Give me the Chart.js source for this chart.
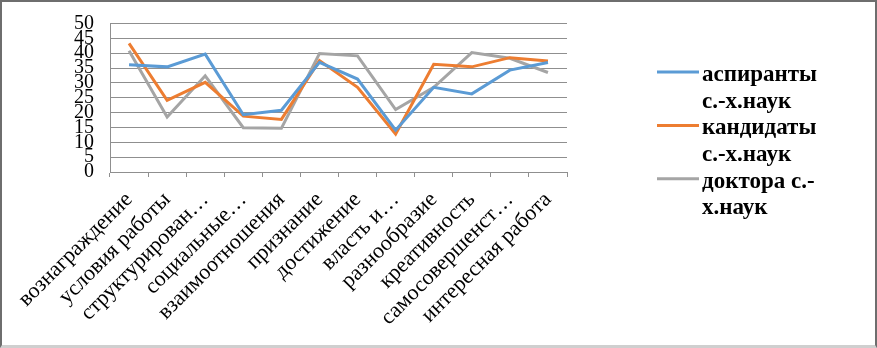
<!DOCTYPE html>
<html>
<head>
<meta charset="utf-8">
<script src="https://cdn.jsdelivr.net/npm/chart.js@4.4.0/dist/chart.umd.min.js"></script>
<style>
	body { margin: 0; background: #fff; }
	#wrap { position: relative; width: 877px; height: 348px; }
	#frame { position: absolute; left: 0; top: 0; width: 877px; height: 348px; box-sizing: border-box;
		border-top: 2px solid #6e6e6e; border-left: 2px solid #6e6e6e; border-right: 2px solid #6e6e6e; border-bottom: 3px solid #cfcfcf; pointer-events: none; }
</style>
</head>
<body>
<div id="wrap">
	<canvas id="myChart" width="877" height="348"></canvas>
	<div id="frame"></div>
</div>
<script>
const categories = ['вознаграждение', 'условия работы', 'структурирован…', 'социальные…', 'взаимоотношения', 'признание',
	'достижение', 'власть и…', 'разнообразие', 'креативность', 'самосовершенст…', 'интересная работа'];
const seriesNames = ['аспиранты с.-х.наук', 'кандидаты с.-х.наук', 'доктора с.-х.наук'];
const aspiranty = [36.1, 35.4, 39.7, 19.3, 20.8, 36.9, 31.3, 14.1, 28.5, 26.3, 34.3, 36.9];
const kandidaty = [43.3, 24.1, 30.2, 18.8, 17.7, 37.5, 28.5, 12.8, 36.3, 35.4, 38.5, 37.4];
const doktora = [40.8, 18.5, 32.4, 14.9, 14.7, 39.9, 39.1, 21.0, 28.5, 40.2, 38.3, 33.5];
const yTicks = [0, 5, 10, 15, 20, 25, 30, 35, 40, 45, 50];

const colors = ['#5b9bd5', '#ed7d31', '#a5a5a5'];
const serif = "'Liberation Serif', 'Times New Roman', serif";

function wrapText(ctx, text, maxW) {
	const parts = text.split(/(?<= )|(?<=-)/);
	const lines = [];
	let cur = '';
	parts.forEach(p => {
		const t = cur + p;
		if (cur && ctx.measureText(t.trim()).width > maxW) {
			lines.push(cur.trim());
			cur = p;
		} else {
			cur = t;
		}
	});
	if (cur) lines.push(cur.trim());
	return lines;
}

// legend on the right, labels wrapped on two lines
const sideLegend = {
	id: 'sideLegend',
	afterDraw(chart) {
		const ctx = chart.ctx;
		ctx.save();
		ctx.font = 'bold 23px ' + serif;
		ctx.textBaseline = 'middle';
		ctx.fillStyle = '#000';
		let y = 75;
		chart.data.datasets.forEach(ds => {
			ctx.strokeStyle = ds.borderColor;
			ctx.lineWidth = 3;
			ctx.beginPath();
			ctx.moveTo(657, y - 3);
			ctx.lineTo(699, y - 3);
			ctx.stroke();
			wrapText(ctx, ds.label, 130).forEach(line => {
				ctx.fillText(line, 702, y);
				y += 26.7;
			});
		});
		ctx.restore();
	}
};

const ctx = document.getElementById('myChart');
new Chart(ctx, {
	type: 'line',
	data: {
		labels: categories,
		datasets: [aspiranty, kandidaty, doktora].map((d, i) => ({
			label: seriesNames[i],
			data: d,
			borderColor: colors[i],
			backgroundColor: 'transparent',
			borderWidth: 3,
			pointRadius: 0,
			lineTension: 0,
		}))
	},
	plugins: [sideLegend],
	options: {
		responsive: false,
		animation: false,
		layout: {
			padding: { left: 0, right: 310, top: 22, bottom: 0 }
		},
		plugins: {
			legend: { display: false },
			tooltip: { enabled: false }
		},
		scales: {
			y: {
				min: 0,
				max: 50,
				afterBuildTicks(scale) {
					scale.ticks = yTicks.map(v => ({ value: v }));
				},
				afterFit(scale) { scale.width = 110; },
				grid: { color: '#8f8f8f', lineWidth: 1, drawTicks: false },
				border: { display: true, color: '#8f8f8f' },
				ticks: {
					color: '#000',
					autoSkip: false,
					padding: 16,
					font: { family: serif, size: 20, lineHeight: 0.75 }
				}
			},
			x: {
				offset: true,
				afterFit(scale) { scale.height = 176; },
				grid: { display: true, drawOnChartArea: false, offset: true, tickLength: 5, color: '#8f8f8f' },
				border: { display: true, color: '#8f8f8f' },
				ticks: {
					color: '#000',
					autoSkip: false,
					maxRotation: 45,
					minRotation: 45,
					padding: 10,
					font: { family: serif, size: 22 }
				}
			}
		}
	}
});
</script>
</body>
</html>
